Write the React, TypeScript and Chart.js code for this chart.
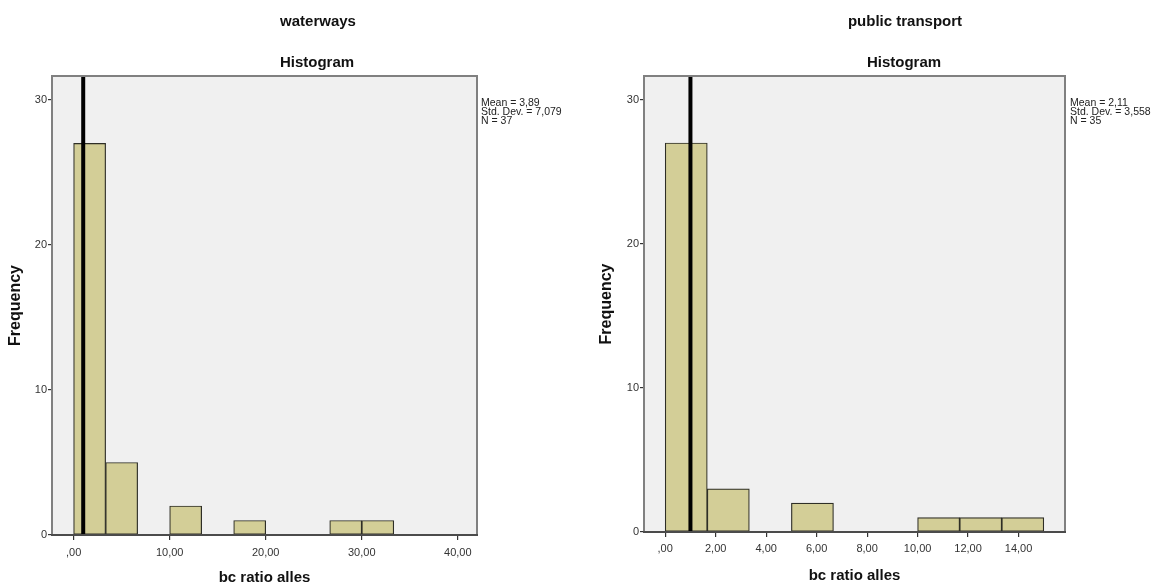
import React, { useEffect, useRef } from 'react';
import { Chart, registerables } from 'chart.js';

Chart.register(...registerables);

const FONT = "'Liberation Sans', Arial, Helvetica, sans-serif";

// ---- waterways ----
const waterwaysCounts = [27, 5, 0, 2, 0, 1, 0, 0, 1, 1];
const waterwaysBinWidth = 10 / 3;
const waterwaysXTicks = [0, 10, 20, 30, 40];
const waterwaysXTickLabels = [',00', '10,00', '20,00', '30,00', '40,00'];
const waterwaysStats = ['Mean = 3,89', 'Std. Dev. = 7,079', 'N = 37'];
const waterwaysRefLine = 1;

// ---- public transport ----
const transportCounts = [27, 3, 0, 2, 0, 0, 1, 1, 1];
const transportBinWidth = 5 / 3;
const transportXTicks = [0, 2, 4, 6, 8, 10, 12, 14];
const transportXTickLabels = [',00', '2,00', '4,00', '6,00', '8,00', '10,00', '12,00', '14,00'];
const transportStats = ['Mean = 2,11', 'Std. Dev. = 3,558', 'N = 35'];
const transportRefLine = 1;

// ---- shared ----
const yTicks = [0, 10, 20, 30];
const yTickLabels = ['0', '10', '20', '30'];
const subTitle = 'Histogram';
const xAxisTitle = 'bc ratio alles';
const yAxisTitle = 'Frequency';

interface PanelCfg {
  title: string;
  counts: number[];
  binWidth: number;
  xTicks: number[];
  xTickLabels: string[];
  stats: string[];
  refLine: number;
  xMin: number;
  xMax: number;
  yMax: number;
  left: number;
  width: number;
  yAxisWidth: number;
  xAxisHeight: number;
  padRight: number;
  titleX: number;
  histX: number;
  statsX: number;
  yTitlePad: number;
  xTitlePadBottom: number;
  xTickPad: number;
}

const panels: PanelCfg[] = [
  {
    title: 'waterways',
    counts: waterwaysCounts,
    binWidth: waterwaysBinWidth,
    xTicks: waterwaysXTicks,
    xTickLabels: waterwaysXTickLabels,
    stats: waterwaysStats,
    refLine: waterwaysRefLine,
    xMin: -2.25,
    xMax: 42.0,
    yMax: 31.65,
    left: 0,
    width: 580,
    yAxisWidth: 52,
    xAxisHeight: 50,
    padRight: 103,
    titleX: 318,
    histX: 317,
    statsX: 481,
    yTitlePad: 8,
    xTitlePadBottom: 0,
    xTickPad: 6,
  },
  {
    title: 'public transport',
    counts: transportCounts,
    binWidth: transportBinWidth,
    xTicks: transportXTicks,
    xTickLabels: transportXTickLabels,
    stats: transportStats,
    refLine: transportRefLine,
    xMin: -0.84,
    xMax: 15.84,
    yMax: 31.65,
    left: 580,
    width: 579,
    yAxisWidth: 64,
    xAxisHeight: 53,
    padRight: 94,
    titleX: 325,
    histX: 324,
    statsX: 490,
    yTitlePad: 19,
    xTitlePadBottom: 2,
    xTickPad: 5,
  },
];

const HEIGHT = 585;

function Panel({ cfg }: { cfg: PanelCfg }) {
  const ref = useRef<HTMLCanvasElement | null>(null);

  useEffect(() => {
    const canvas = ref.current;
    if (!canvas) return;

    const decor = {
      id: 'spssDecor',
      beforeDraw(chart: any) {
        const { ctx, chartArea } = chart;
        ctx.save();
        ctx.fillStyle = '#F0F0F0';
        ctx.fillRect(chartArea.left, chartArea.top, chartArea.right - chartArea.left, chartArea.bottom - chartArea.top);
        ctx.restore();
      },
      afterDraw(chart: any) {
        const { ctx, chartArea } = chart;
        ctx.save();
        ctx.strokeStyle = '#808080';
        ctx.lineWidth = 2;
        ctx.strokeRect(chartArea.left, chartArea.top, chartArea.right - chartArea.left, chartArea.bottom - chartArea.top);
        ctx.strokeStyle = '#3a3a3a';
        ctx.lineWidth = 1.5;
        ctx.beginPath();
        ctx.moveTo(chartArea.left - 1, chartArea.bottom);
        ctx.lineTo(chartArea.right + 1, chartArea.bottom);
        ctx.stroke();
        ctx.fillStyle = '#111';
        ctx.textAlign = 'center';
        ctx.textBaseline = 'middle';
        ctx.font = `bold 15px ${FONT}`;
        ctx.fillText(cfg.title, cfg.titleX, 22);
        ctx.fillText(subTitle, cfg.histX, 63);
        ctx.textAlign = 'left';
        ctx.font = `10.5px ${FONT}`;
        ctx.fillStyle = '#222';
        cfg.stats.forEach((s, i) => {
          ctx.fillText(s, cfg.statsX, 103 + i * 9);
        });
        ctx.restore();
      },
    };

    const chart = new Chart(canvas, {
      type: 'bar',
      data: {
        datasets: [
          {
            type: 'line',
            data: [
              { x: cfg.refLine, y: 0 },
              { x: cfg.refLine, y: cfg.yMax },
            ],
            borderColor: '#000000',
            borderWidth: 4,
            pointRadius: 0,
            order: 0,
          } as any,
          {
            type: 'bar',
            data: cfg.counts.map((c, i) => ({ x: (i + 0.5) * cfg.binWidth, y: c })),
            backgroundColor: '#D3CE97',
            borderColor: '#2e2e26',
            borderWidth: (ctx: any) => (ctx.raw && ctx.raw.y > 0 ? 1.2 : 0),
            borderSkipped: false,
            barPercentage: 1,
            categoryPercentage: 1,
            order: 1,
          } as any,
        ],
      },
      options: {
        responsive: false,
        animation: false,
        devicePixelRatio: 1,
        layout: { padding: { top: 76, right: cfg.padRight, left: 0, bottom: 0 } },
        plugins: {
          legend: { display: false },
          tooltip: { enabled: false },
          title: { display: false },
        },
        scales: {
          x: {
            type: 'linear',
            min: cfg.xMin,
            max: cfg.xMax,
            offset: false,
            afterFit: (s: any) => {
              s.height = cfg.xAxisHeight;
            },
            afterBuildTicks: (s: any) => {
              s.ticks = cfg.xTicks.map((v) => ({ value: v }));
            },
            ticks: {
              autoSkip: false,
              maxRotation: 0,
              padding: cfg.xTickPad,
              color: '#333',
              font: { family: FONT, size: 11 },
              callback: (v: any) => {
                const i = cfg.xTicks.indexOf(Number(v));
                return i >= 0 ? cfg.xTickLabels[i] : '';
              },
            },
            grid: {
              offset: false,
              drawOnChartArea: false,
              drawTicks: true,
              tickLength: 5,
              color: '#333',
              lineWidth: 1.2,
            },
            border: { display: false },
            title: {
              display: true,
              text: xAxisTitle,
              color: '#111',
              font: { family: FONT, size: 15, weight: 'bold', lineHeight: 1 },
              padding: { top: 0, bottom: cfg.xTitlePadBottom },
            },
          },
          y: {
            type: 'linear',
            min: 0,
            max: cfg.yMax,
            afterFit: (s: any) => {
              s.width = cfg.yAxisWidth;
            },
            afterBuildTicks: (s: any) => {
              s.ticks = yTicks.map((v) => ({ value: v }));
            },
            ticks: {
              padding: 1,
              color: '#333',
              font: { family: FONT, size: 11 },
              callback: (v: any) => {
                const i = yTicks.indexOf(Number(v));
                return i >= 0 ? yTickLabels[i] : '';
              },
            },
            grid: {
              drawOnChartArea: false,
              drawTicks: true,
              tickLength: 4,
              color: '#333',
              lineWidth: 1.2,
            },
            border: { display: false },
            title: {
              display: true,
              text: yAxisTitle,
              color: '#111',
              font: { family: FONT, size: 16, weight: 'bold', lineHeight: 1 },
              padding: { top: cfg.yTitlePad, bottom: 0 },
            },
          },
        },
      } as any,
      plugins: [decor],
    });

    return () => {
      chart.destroy();
    };
  }, [cfg]);

  return (
    <div style={{ position: 'absolute', left: cfg.left, top: 0, width: cfg.width, height: HEIGHT }}>
      <canvas ref={ref} width={cfg.width} height={HEIGHT} style={{ display: 'block', width: cfg.width, height: HEIGHT }} />
    </div>
  );
}

export default function App() {
  return (
    <div style={{ position: 'absolute', left: 0, top: 0, width: 1159, height: HEIGHT, background: '#fff' }}>
      {panels.map((p) => (
        <Panel key={p.title} cfg={p} />
      ))}
    </div>
  );
}
